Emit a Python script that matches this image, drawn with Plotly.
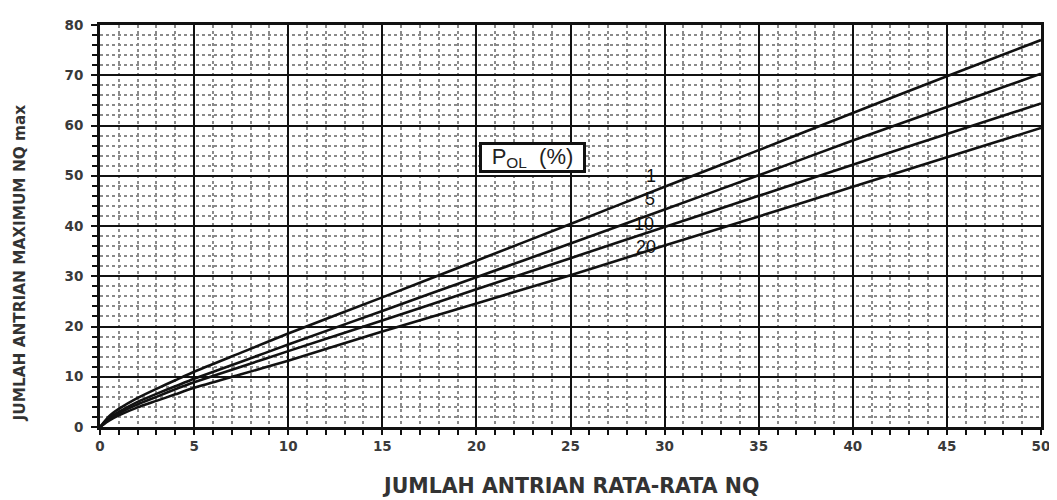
import plotly.graph_objects as go

# NQ (average queue) sample points
nq = [0, 0.5, 1, 2, 3, 4, 5, 7.5, 10, 15, 20, 25, 30, 35, 40, 45, 50]

# NQmax curves for each P_OL (%)
pol_1 = [0, 2.2, 3.6, 5.8, 7.6, 9.3, 11.0, 14.8, 18.6, 25.8, 33.1, 40.4, 47.8, 55.1, 62.5, 69.8, 77.0]
pol_5 = [0, 1.8, 3.0, 5.0, 6.6, 8.1, 9.6, 13.0, 16.4, 23.1, 29.8, 36.5, 43.3, 50.1, 57.0, 63.7, 70.3]
pol_10 = [0, 1.6, 2.7, 4.5, 6.0, 7.5, 8.9, 12.0, 15.1, 21.2, 27.4, 33.6, 39.8, 46.0, 52.2, 58.3, 64.4]
pol_20 = [0, 1.3, 2.3, 3.9, 5.2, 6.5, 7.8, 10.5, 13.2, 19.0, 24.6, 30.2, 36.1, 41.9, 47.8, 53.7, 59.5]

series = [("1", pol_1), ("5", pol_5), ("10", pol_10), ("20", pol_20)]

# label positions (data coords) for curve names
label_names = ["1", "5", "10", "20"]
label_x = [29.3, 29.2, 28.9, 29.0]
label_y = [50.0, 45.3, 40.4, 35.9]

x_ticks = [0, 5, 10, 15, 20, 25, 30, 35, 40, 45, 50]
y_ticks = [0, 10, 20, 30, 40, 50, 60, 70, 80]

fig = go.Figure()
for name, vals in series:
    fig.add_trace(go.Scatter(
        x=nq, y=vals, mode="lines", name=name,
        line=dict(color="#111111", width=2.6, shape="spline", smoothing=0.6),
        showlegend=False, hoverinfo="skip"))

tick_font = dict(family="DejaVu Sans, sans-serif", size=13.5, color="#3a3a3a", weight="bold")

fig.update_xaxes(
    range=[0, 50], tickvals=x_ticks, ticktext=[str(v) for v in x_ticks],
    showgrid=True, gridcolor="#111111", gridwidth=2,
    showline=True, linecolor="#111111", linewidth=3, mirror=True,
    ticks="outside", ticklen=5, tickwidth=2, tickcolor="#111111",
    tickfont=tick_font, zeroline=False,
    minor=dict(dtick=1, showgrid=True, gridcolor="#8a8a8a", griddash="dot",
               gridwidth=1.5, ticks="outside", ticklen=5, tickwidth=2,
               tickcolor="#111111"),
)
fig.update_yaxes(
    range=[0, 80], tickvals=y_ticks, ticktext=[str(v) for v in y_ticks],
    showgrid=True, gridcolor="#111111", gridwidth=2,
    showline=True, linecolor="#111111", linewidth=3, mirror=True,
    ticks="outside", ticklen=6, tickwidth=2, tickcolor="#111111",
    tickfont=tick_font, zeroline=False, ticklabelstandoff=5,
    minor=dict(dtick=2, showgrid=True, gridcolor="#8a8a8a", griddash="dot",
               gridwidth=1.5, ticks="outside", ticklen=5, tickwidth=2,
               tickcolor="#111111"),
)

annotations = []
for n, lx, ly in zip(label_names, label_x, label_y):
    annotations.append(dict(
        x=lx, y=ly, xref="x", yref="y", text=n, showarrow=False,
        font=dict(family="Liberation Sans, Arial, sans-serif", size=18, color="#111111")))

annotations.append(dict(
    x=23.0, y=53.7, xref="x", yref="y", text="P<sub>OL</sub>&nbsp;&nbsp;(%)",
    showarrow=False, width=101, height=25, align="center",
    font=dict(family="Liberation Sans, Arial, sans-serif", size=22, color="#222222"),
    bordercolor="#111111", borderwidth=3, borderpad=0, bgcolor="white"))

annotations.append(dict(
    x=0.5, y=-0.146, xref="paper", yref="paper", yanchor="middle",
    text="JUMLAH ANTRIAN RATA-RATA NQ", showarrow=False,
    font=dict(family="DejaVu Sans, sans-serif", size=20.5, color="#333333", weight="bold")))

annotations.append(dict(
    x=-0.085, y=0.407, xref="paper", yref="paper", xanchor="center", yanchor="middle",
    textangle=-90,
    text="JUMLAH ANTRIAN MAXIMUM NQ max", showarrow=False,
    font=dict(family="DejaVu Sans, sans-serif", size=15.3, color="#333333", weight="bold")))

# page body has an 8px default margin; shift the figure margins to compensate
fig.update_layout(
    width=1057, height=500,
    margin=dict(l=92, r=24, t=9, b=81),
    paper_bgcolor="white", plot_bgcolor="white",
    annotations=annotations,
)

fig.write_html("out.html")
